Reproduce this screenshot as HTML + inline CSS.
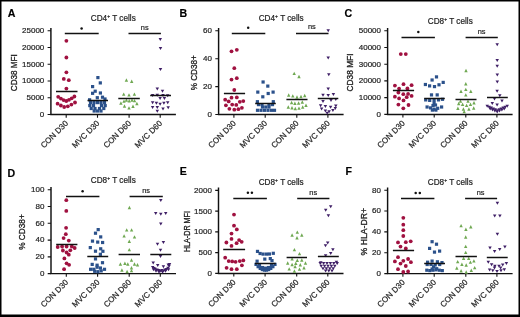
<!DOCTYPE html>
<html><head><meta charset="utf-8"><style>
html,body{margin:0;padding:0;background:#fff;}
body{width:520px;height:317px;overflow:hidden;}
svg{will-change:transform;display:block;font-family:"Liberation Sans",sans-serif;}
text{stroke:#222;stroke-width:0.2px;paint-order:stroke;}
</style></head><body>
<svg width="520" height="317" viewBox="0 0 520 317">
<rect x="0" y="0" width="520" height="317" fill="#fff"/>
<path d="M0 0H520V1.45H0Z M0 0H1.5V317H0Z M518.5 0H520V317H518.5Z M0 314.6H520V317H0Z" fill="#000"/>
<g id="pA">
<text transform="translate(7.7 16.9) scale(0.9 1)" font-size="11.8" font-weight="bold" fill="#000" style="stroke-width:0.2px">A</text>
<text x="90.8" y="20.6" font-size="8.2" fill="#222">CD4<tspan font-size="5" dy="-3">+</tspan><tspan dy="3"> T cells</tspan></text>
<text transform="translate(16.8 72.7) rotate(-90)" text-anchor="middle" font-size="9.0" fill="#222" style="stroke-width:0.32px" textLength="37" lengthAdjust="spacingAndGlyphs">CD38 MFI</text>
<path d="M50.9 27.9V114.5H175.9" fill="none" stroke="#111" stroke-width="1.45"/>
<text x="44.3" y="116.9" text-anchor="end" font-size="8.0" fill="#222">0</text>
<text x="44.3" y="100.14" text-anchor="end" font-size="8.0" fill="#222">5000</text>
<text x="44.3" y="83.38" text-anchor="end" font-size="8.0" fill="#222">10000</text>
<text x="44.3" y="66.62" text-anchor="end" font-size="8.0" fill="#222">15000</text>
<text x="44.3" y="49.86" text-anchor="end" font-size="8.0" fill="#222">20000</text>
<text x="44.3" y="33.1" text-anchor="end" font-size="8.0" fill="#222">25000</text>
<path d="M47.6 114.5H50.9M47.6 97.74H50.9M47.6 80.98H50.9M47.6 64.22H50.9M47.6 47.46H50.9M47.6 30.7H50.9M66.2 114.5V117.7M97.5 114.5V117.7M129.1 114.5V117.7M160.2 114.5V117.7" fill="none" stroke="#111" stroke-width="1.1"/>
<text transform="translate(68.7 123.8) rotate(-45)" text-anchor="end" font-size="8.1" fill="#222">CON D30</text>
<text transform="translate(100 123.8) rotate(-45)" text-anchor="end" font-size="8.1" fill="#222">MVC D30</text>
<text transform="translate(131.6 123.8) rotate(-45)" text-anchor="end" font-size="8.1" fill="#222">CON D60</text>
<text transform="translate(162.7 123.8) rotate(-45)" text-anchor="end" font-size="8.1" fill="#222">MVC D60</text>
<path d="M64.8 33.5H98.7" stroke="#111" stroke-width="1.4"/>
<circle cx="81.6" cy="28.4" r="1.25" fill="#111"/>
<path d="M128.5 33.5H160.9" stroke="#111" stroke-width="1.4"/>
<text x="140.8" y="29.6" font-size="7.4" fill="#222">ns</text>
<g fill="#a01140"><circle cx="66.4" cy="40.8" r="1.9"/><circle cx="66.4" cy="57.5" r="1.9"/><circle cx="66.4" cy="72.3" r="1.9"/><circle cx="63.8" cy="78.9" r="1.9"/><circle cx="68.8" cy="80.2" r="1.9"/><circle cx="66.4" cy="88.6" r="1.9"/><circle cx="58.2" cy="96.8" r="1.9"/><circle cx="60.9" cy="98.6" r="1.9"/><circle cx="63.6" cy="100.1" r="1.9"/><circle cx="66.3" cy="101" r="1.9"/><circle cx="69" cy="99.8" r="1.9"/><circle cx="71.7" cy="98.3" r="1.9"/><circle cx="74.4" cy="96.5" r="1.9"/><circle cx="57.6" cy="103.7" r="1.9"/><circle cx="60.9" cy="105.5" r="1.9"/><circle cx="64.2" cy="107" r="1.9"/><circle cx="67.8" cy="106.3" r="1.9"/><circle cx="71.4" cy="104.6" r="1.9"/><circle cx="75" cy="102.5" r="1.9"/></g>
<g fill="#2b518b"><rect x="96.3" y="76" width="3.2" height="3.2"/><rect x="98.7" y="81.3" width="3.2" height="3.2"/><rect x="91" y="85" width="3.2" height="3.2"/><rect x="93.6" y="89.6" width="3.2" height="3.2"/><rect x="91" y="91.7" width="3.2" height="3.2"/><rect x="98.8" y="91.4" width="3.2" height="3.2"/><rect x="95.7" y="96.1" width="3.2" height="3.2"/><rect x="100.9" y="95.6" width="3.2" height="3.2"/><rect x="103.4" y="97.4" width="3.2" height="3.2"/><rect x="88" y="98.2" width="3.2" height="3.2"/><rect x="88.9" y="101" width="3.2" height="3.2"/><rect x="92.4" y="101" width="3.2" height="3.2"/><rect x="95.9" y="101" width="3.2" height="3.2"/><rect x="99.4" y="101" width="3.2" height="3.2"/><rect x="102.9" y="101" width="3.2" height="3.2"/><rect x="88.2" y="104" width="3.2" height="3.2"/><rect x="91.9" y="104" width="3.2" height="3.2"/><rect x="99.9" y="104" width="3.2" height="3.2"/><rect x="103.6" y="104" width="3.2" height="3.2"/><rect x="89.6" y="106.9" width="3.2" height="3.2"/><rect x="93.4" y="106.9" width="3.2" height="3.2"/><rect x="97.9" y="106.9" width="3.2" height="3.2"/><rect x="102.2" y="106.9" width="3.2" height="3.2"/><rect x="92.6" y="109.4" width="3.2" height="3.2"/><rect x="96" y="109.4" width="3.2" height="3.2"/><rect x="99.4" y="109.4" width="3.2" height="3.2"/></g>
<g fill="#6fa852"><path d="M126.4 78.26L128.1 81.66L124.7 81.66Z"/><path d="M131.7 79.56L133.4 82.96L130 82.96Z"/><path d="M123.7 92.46L125.4 95.86L122 95.86Z"/><path d="M129 93.16L130.7 96.56L127.3 96.56Z"/><path d="M134.4 92.46L136.1 95.86L132.7 95.86Z"/><path d="M126.4 98.26L128.1 101.66L124.7 101.66Z"/><path d="M129.2 99.06L130.9 102.46L127.5 102.46Z"/><path d="M132 98.26L133.7 101.66L130.3 101.66Z"/><path d="M124 99.46L125.7 102.86L122.3 102.86Z"/><path d="M134.5 98.96L136.2 102.36L132.8 102.36Z"/><path d="M120.9 101.36L122.6 104.76L119.2 104.76Z"/><path d="M124.5 104.26L126.2 107.66L122.8 107.66Z"/><path d="M129 106.16L130.7 109.56L127.3 109.56Z"/><path d="M133 104.56L134.7 107.96L131.3 107.96Z"/><path d="M136.9 101.86L138.6 105.26L135.2 105.26Z"/></g>
<g fill="#3f1f66"><path d="M158.55 38.1L162.05 38.1L160.3 41.1Z"/><path d="M158.75 46.9L162.25 46.9L160.5 49.9Z"/><path d="M158.75 68.1L162.25 68.1L160.5 71.1Z"/><path d="M155.55 87.4L159.05 87.4L157.3 90.4Z"/><path d="M160.75 89.7L164.25 89.7L162.5 92.7Z"/><path d="M150.85 94L154.35 94L152.6 97Z"/><path d="M155.55 93.7L159.05 93.7L157.3 96.7Z"/><path d="M161.25 94L164.75 94L163 97Z"/><path d="M165.95 94.2L169.45 94.2L167.7 97.2Z"/><path d="M158.35 97L161.85 97L160.1 100Z"/><path d="M162.65 97L166.15 97L164.4 100Z"/><path d="M150.85 101.3L154.35 101.3L152.6 104.3Z"/><path d="M154.65 101.8L158.15 101.8L156.4 104.8Z"/><path d="M158.35 102.7L161.85 102.7L160.1 105.7Z"/><path d="M162.15 101.8L165.65 101.8L163.9 104.8Z"/><path d="M165.95 101.3L169.45 101.3L167.7 104.3Z"/><path d="M150.85 106L154.35 106L152.6 109Z"/><path d="M155.55 106L159.05 106L157.3 109Z"/><path d="M161.25 107.5L164.75 107.5L163 110.5Z"/><path d="M166.45 106.3L169.95 106.3L168.2 109.3Z"/><path d="M155.55 109.8L159.05 109.8L157.3 112.8Z"/></g>
<path d="M56 91.5H77.5" stroke="#111" stroke-width="1.5"/>
<path d="M87.5 100.5H108" stroke="#111" stroke-width="1.5"/>
<path d="M118.3 98.5H139.8" stroke="#111" stroke-width="1.5"/>
<path d="M150.2 95.5H171" stroke="#111" stroke-width="1.5"/>
</g>
<g id="pB">
<text transform="translate(179.4 16.6) scale(0.9 1)" font-size="11.8" font-weight="bold" fill="#000" style="stroke-width:0.2px">B</text>
<text x="258.7" y="20.8" font-size="8.2" fill="#222">CD4<tspan font-size="5" dy="-3">+</tspan><tspan dy="3"> T cells</tspan></text>
<text transform="translate(196.9 72.8) rotate(-90)" text-anchor="middle" font-size="9.0" fill="#222" style="stroke-width:0.32px" textLength="35" lengthAdjust="spacingAndGlyphs">% CD38+</text>
<path d="M218.6 28V114.5H343.6" fill="none" stroke="#111" stroke-width="1.45"/>
<text x="212" y="116.9" text-anchor="end" font-size="8.0" fill="#222">0</text>
<text x="212" y="89" text-anchor="end" font-size="8.0" fill="#222">20</text>
<text x="212" y="61.1" text-anchor="end" font-size="8.0" fill="#222">40</text>
<text x="212" y="33.2" text-anchor="end" font-size="8.0" fill="#222">60</text>
<path d="M215.3 114.5H218.6M215.3 86.6H218.6M215.3 58.7H218.6M215.3 30.8H218.6M233.9 114.5V117.7M265.2 114.5V117.7M296.8 114.5V117.7M327.9 114.5V117.7" fill="none" stroke="#111" stroke-width="1.1"/>
<text transform="translate(236.4 123.8) rotate(-45)" text-anchor="end" font-size="8.1" fill="#222">CON D30</text>
<text transform="translate(267.7 123.8) rotate(-45)" text-anchor="end" font-size="8.1" fill="#222">MVC D30</text>
<text transform="translate(299.3 123.8) rotate(-45)" text-anchor="end" font-size="8.1" fill="#222">CON D60</text>
<text transform="translate(330.4 123.8) rotate(-45)" text-anchor="end" font-size="8.1" fill="#222">MVC D60</text>
<path d="M231.8 33.5H265.3" stroke="#111" stroke-width="1.4"/>
<circle cx="248.2" cy="27.7" r="1.25" fill="#111"/>
<path d="M296 33.5H328.5" stroke="#111" stroke-width="1.4"/>
<text x="307.9" y="29.4" font-size="7.4" fill="#222">ns</text>
<g fill="#a01140"><circle cx="231.5" cy="51.3" r="1.9"/><circle cx="236.8" cy="49.8" r="1.9"/><circle cx="234.3" cy="68.2" r="1.9"/><circle cx="231.5" cy="79.6" r="1.9"/><circle cx="236.8" cy="78.2" r="1.9"/><circle cx="234.3" cy="90" r="1.9"/><circle cx="231.5" cy="97.7" r="1.9"/><circle cx="236.8" cy="97.4" r="1.9"/><circle cx="225.2" cy="99.7" r="1.9"/><circle cx="228.7" cy="101.4" r="1.9"/><circle cx="239.8" cy="101.8" r="1.9"/><circle cx="243.3" cy="101.1" r="1.9"/><circle cx="232.2" cy="104.6" r="1.9"/><circle cx="236.3" cy="104.9" r="1.9"/><circle cx="225.9" cy="105.3" r="1.9"/><circle cx="229.4" cy="108.8" r="1.9"/><circle cx="234.3" cy="109.7" r="1.9"/><circle cx="238.4" cy="109.2" r="1.9"/><circle cx="241.9" cy="107.8" r="1.9"/></g>
<g fill="#2b518b"><rect x="261.5" y="80.4" width="3.2" height="3.2"/><rect x="266.2" y="84.5" width="3.2" height="3.2"/><rect x="256.2" y="90.5" width="3.2" height="3.2"/><rect x="271.5" y="90.5" width="3.2" height="3.2"/><rect x="266.6" y="91.9" width="3.2" height="3.2"/><rect x="261.2" y="95.2" width="3.2" height="3.2"/><rect x="255.8" y="100.1" width="3.2" height="3.2"/><rect x="271.7" y="100.1" width="3.2" height="3.2"/><rect x="256.9" y="103" width="3.2" height="3.2"/><rect x="260.4" y="103" width="3.2" height="3.2"/><rect x="267.4" y="103" width="3.2" height="3.2"/><rect x="270.9" y="103" width="3.2" height="3.2"/><rect x="260.9" y="105.4" width="3.2" height="3.2"/><rect x="264.2" y="105.4" width="3.2" height="3.2"/><rect x="267.4" y="105.4" width="3.2" height="3.2"/><rect x="255.9" y="108.7" width="3.2" height="3.2"/><rect x="259.4" y="108.7" width="3.2" height="3.2"/><rect x="262.9" y="108.7" width="3.2" height="3.2"/><rect x="266.4" y="108.7" width="3.2" height="3.2"/><rect x="269.9" y="108.7" width="3.2" height="3.2"/><rect x="272.9" y="108.7" width="3.2" height="3.2"/></g>
<g fill="#6fa852"><path d="M294.2 71.66L295.9 75.06L292.5 75.06Z"/><path d="M299 74.86L300.7 78.26L297.3 78.26Z"/><path d="M288.7 93.36L290.4 96.76L287 96.76Z"/><path d="M292.8 94.16L294.5 97.56L291.1 97.56Z"/><path d="M297 95.36L298.7 98.76L295.3 98.76Z"/><path d="M301 94.86L302.7 98.26L299.3 98.26Z"/><path d="M304.7 93.76L306.4 97.16L303 97.16Z"/><path d="M291.6 100.76L293.3 104.16L289.9 104.16Z"/><path d="M294.9 101.56L296.6 104.96L293.2 104.96Z"/><path d="M298.6 101.36L300.3 104.76L296.9 104.76Z"/><path d="M302.3 100.36L304 103.76L300.6 103.76Z"/><path d="M288.3 105.26L290 108.66L286.6 108.66Z"/><path d="M292 106.06L293.7 109.46L290.3 109.46Z"/><path d="M295.3 106.86L297 110.26L293.6 110.26Z"/><path d="M299 106.46L300.7 109.86L297.3 109.86Z"/><path d="M302.7 105.26L304.4 108.66L301 108.66Z"/><path d="M306 103.56L307.7 106.96L304.3 106.96Z"/></g>
<g fill="#3f1f66"><path d="M326.45 29.3L329.95 29.3L328.2 32.3Z"/><path d="M326.45 56.6L329.95 56.6L328.2 59.6Z"/><path d="M327.05 73.3L330.55 73.3L328.8 76.3Z"/><path d="M326.45 87.6L329.95 87.6L328.2 90.6Z"/><path d="M321.25 93.8L324.75 93.8L323 96.8Z"/><path d="M326.45 94.1L329.95 94.1L328.2 97.1Z"/><path d="M331.65 93.1L335.15 93.1L333.4 96.1Z"/><path d="M321.25 99.9L324.75 99.9L323 102.9Z"/><path d="M329.25 99L332.75 99L331 102Z"/><path d="M334.05 98L337.55 98L335.8 101Z"/><path d="M318.85 104.2L322.35 104.2L320.6 107.2Z"/><path d="M323.65 105.1L327.15 105.1L325.4 108.1Z"/><path d="M328.85 105.8L332.35 105.8L330.6 108.8Z"/><path d="M334.05 104.5L337.55 104.5L335.8 107.5Z"/><path d="M319.85 107.5L323.35 107.5L321.6 110.5Z"/><path d="M323.65 109.4L327.15 109.4L325.4 112.4Z"/><path d="M327.35 110.3L330.85 110.3L329.1 113.3Z"/><path d="M331.15 108.9L334.65 108.9L332.9 111.9Z"/><path d="M333.55 107L337.05 107L335.3 110Z"/><path d="M325.45 111.8L328.95 111.8L327.2 114.8Z"/></g>
<path d="M223.9 93.5H245.1" stroke="#111" stroke-width="1.5"/>
<path d="M255.2 103.5H275.8" stroke="#111" stroke-width="1.5"/>
<path d="M286.4 99.5H307.5" stroke="#111" stroke-width="1.5"/>
<path d="M317.8 98.5H338.3" stroke="#111" stroke-width="1.5"/>
</g>
<g id="pC">
<text transform="translate(344.5 17.3) scale(0.9 1)" font-size="11.8" font-weight="bold" fill="#000" style="stroke-width:0.2px">C</text>
<text x="427.8" y="24.3" font-size="8.2" fill="#222">CD8<tspan font-size="5" dy="-3">+</tspan><tspan dy="3"> T cells</tspan></text>
<text transform="translate(352.9 72.5) rotate(-90)" text-anchor="middle" font-size="9.0" fill="#222" style="stroke-width:0.32px" textLength="38" lengthAdjust="spacingAndGlyphs">CD38 MFI</text>
<path d="M387.6 27.9V114.4H512.6" fill="none" stroke="#111" stroke-width="1.45"/>
<text x="381" y="116.8" text-anchor="end" font-size="8.0" fill="#222">0</text>
<text x="381" y="100.06" text-anchor="end" font-size="8.0" fill="#222">10000</text>
<text x="381" y="83.32" text-anchor="end" font-size="8.0" fill="#222">20000</text>
<text x="381" y="66.58" text-anchor="end" font-size="8.0" fill="#222">30000</text>
<text x="381" y="49.84" text-anchor="end" font-size="8.0" fill="#222">40000</text>
<text x="381" y="33.1" text-anchor="end" font-size="8.0" fill="#222">50000</text>
<path d="M384.3 114.4H387.6M384.3 97.66H387.6M384.3 80.92H387.6M384.3 64.18H387.6M384.3 47.44H387.6M384.3 30.7H387.6M402.9 114.4V117.6M434.2 114.4V117.6M465.8 114.4V117.6M496.9 114.4V117.6" fill="none" stroke="#111" stroke-width="1.1"/>
<text transform="translate(405.4 123.7) rotate(-45)" text-anchor="end" font-size="8.1" fill="#222">CON D30</text>
<text transform="translate(436.7 123.7) rotate(-45)" text-anchor="end" font-size="8.1" fill="#222">MVC D30</text>
<text transform="translate(468.3 123.7) rotate(-45)" text-anchor="end" font-size="8.1" fill="#222">CON D60</text>
<text transform="translate(499.4 123.7) rotate(-45)" text-anchor="end" font-size="8.1" fill="#222">MVC D60</text>
<path d="M401.5 37.5H434.9" stroke="#111" stroke-width="1.4"/>
<circle cx="418.3" cy="32.1" r="1.25" fill="#111"/>
<path d="M465.6 37.5H497.8" stroke="#111" stroke-width="1.4"/>
<text x="477.7" y="34.1" font-size="7.4" fill="#222">ns</text>
<g fill="#a01140"><circle cx="400.8" cy="54.1" r="1.9"/><circle cx="405.8" cy="54.1" r="1.9"/><circle cx="394.9" cy="85.6" r="1.9"/><circle cx="403.5" cy="84.2" r="1.9"/><circle cx="411.6" cy="85.2" r="1.9"/><circle cx="399.1" cy="88.6" r="1.9"/><circle cx="407.4" cy="88.4" r="1.9"/><circle cx="398.4" cy="92.5" r="1.9"/><circle cx="403.3" cy="94.2" r="1.9"/><circle cx="408.1" cy="93.9" r="1.9"/><circle cx="411.6" cy="95.9" r="1.9"/><circle cx="394.9" cy="96.7" r="1.9"/><circle cx="399.1" cy="98.4" r="1.9"/><circle cx="406.7" cy="97.2" r="1.9"/><circle cx="403.5" cy="100.4" r="1.9"/><circle cx="398.4" cy="104.6" r="1.9"/><circle cx="408.5" cy="105" r="1.9"/><circle cx="403.3" cy="108.3" r="1.9"/></g>
<g fill="#2b518b"><rect x="434.9" y="75.3" width="3.2" height="3.2"/><rect x="430.5" y="78.4" width="3.2" height="3.2"/><rect x="441.6" y="80.8" width="3.2" height="3.2"/><rect x="423.8" y="82.9" width="3.2" height="3.2"/><rect x="437.4" y="83.2" width="3.2" height="3.2"/><rect x="428" y="84.3" width="3.2" height="3.2"/><rect x="432.9" y="85" width="3.2" height="3.2"/><rect x="429.9" y="93.3" width="3.2" height="3.2"/><rect x="435.6" y="93.3" width="3.2" height="3.2"/><rect x="424.1" y="98.3" width="3.2" height="3.2"/><rect x="428.1" y="98.8" width="3.2" height="3.2"/><rect x="432.5" y="98.8" width="3.2" height="3.2"/><rect x="436.9" y="98.3" width="3.2" height="3.2"/><rect x="440.9" y="97.7" width="3.2" height="3.2"/><rect x="432.5" y="101.8" width="3.2" height="3.2"/><rect x="431.4" y="103.9" width="3.2" height="3.2"/><rect x="433.9" y="103.4" width="3.2" height="3.2"/><rect x="425.5" y="105.4" width="3.2" height="3.2"/><rect x="429" y="106.3" width="3.2" height="3.2"/><rect x="432.5" y="107.6" width="3.2" height="3.2"/><rect x="436.1" y="106.7" width="3.2" height="3.2"/><rect x="440" y="105.4" width="3.2" height="3.2"/><rect x="430.8" y="108.5" width="3.2" height="3.2"/><rect x="434.3" y="108.5" width="3.2" height="3.2"/></g>
<g fill="#6fa852"><path d="M466 68.76L467.7 72.16L464.3 72.16Z"/><path d="M465.8 82.06L467.5 85.46L464.1 85.46Z"/><path d="M461 89.56L462.7 92.96L459.3 92.96Z"/><path d="M465.8 87.66L467.5 91.06L464.1 91.06Z"/><path d="M470.8 89.56L472.5 92.96L469.1 92.96Z"/><path d="M465.8 93.16L467.5 96.56L464.1 96.56Z"/><path d="M460.5 99.46L462.2 102.86L458.8 102.86Z"/><path d="M468 99.46L469.7 102.86L466.3 102.86Z"/><path d="M458.7 101.86L460.4 105.26L457 105.26Z"/><path d="M462.6 102.56L464.3 105.96L460.9 105.96Z"/><path d="M466.6 103.66L468.3 107.06L464.9 107.06Z"/><path d="M470.5 102.56L472.2 105.96L468.8 105.96Z"/><path d="M474 101.06L475.7 104.46L472.3 104.46Z"/><path d="M457.9 106.56L459.6 109.96L456.2 109.96Z"/><path d="M463.4 107.36L465.1 110.76L461.7 110.76Z"/><path d="M468.9 107.36L470.6 110.76L467.2 110.76Z"/><path d="M473.7 106.26L475.4 109.66L472 109.66Z"/><path d="M464.2 109.96L465.9 113.36L462.5 113.36Z"/></g>
<g fill="#3f1f66"><path d="M495.45 43.2L498.95 43.2L497.2 46.2Z"/><path d="M495.45 59L498.95 59L497.2 62Z"/><path d="M495.45 64.7L498.95 64.7L497.2 67.7Z"/><path d="M495.55 73.5L499.05 73.5L497.3 76.5Z"/><path d="M495.55 80.6L499.05 80.6L497.3 83.6Z"/><path d="M495.35 89.8L498.85 89.8L497.1 92.8Z"/><path d="M498.05 94.3L501.55 94.3L499.8 97.3Z"/><path d="M492.75 97.4L496.25 97.4L494.5 100.4Z"/><path d="M500.25 99.6L503.75 99.6L502 102.6Z"/><path d="M490.55 102L494.05 102L492.3 105Z"/><path d="M495.35 103.4L498.85 103.4L497.1 106.4Z"/><path d="M485.45 104.8L488.95 104.8L487.2 107.8Z"/><path d="M487.45 105.68L490.95 105.68L489.2 108.68Z"/><path d="M489.45 106.56L492.95 106.56L491.2 109.56Z"/><path d="M491.45 107.44L494.95 107.44L493.2 110.44Z"/><path d="M493.45 108.32L496.95 108.32L495.2 111.32Z"/><path d="M495.45 109.2L498.95 109.2L497.2 112.2Z"/><path d="M497.45 108.32L500.95 108.32L499.2 111.32Z"/><path d="M499.45 107.44L502.95 107.44L501.2 110.44Z"/><path d="M501.45 106.56L504.95 106.56L503.2 109.56Z"/><path d="M503.45 105.68L506.95 105.68L505.2 108.68Z"/><path d="M505.45 104.8L508.95 104.8L507.2 107.8Z"/><path d="M488.45 107.4L491.95 107.4L490.2 110.4Z"/><path d="M490.78 108.4L494.28 108.4L492.53 111.4Z"/><path d="M493.12 109.4L496.62 109.4L494.87 112.4Z"/><path d="M495.45 110.4L498.95 110.4L497.2 113.4Z"/><path d="M497.78 109.4L501.28 109.4L499.53 112.4Z"/><path d="M500.12 108.4L503.62 108.4L501.87 111.4Z"/><path d="M502.45 107.4L505.95 107.4L504.2 110.4Z"/></g>
<path d="M392.9 90.5H414.1" stroke="#111" stroke-width="1.5"/>
<path d="M424.2 98.5H444.8" stroke="#111" stroke-width="1.5"/>
<path d="M455.5 99.5H476.5" stroke="#111" stroke-width="1.5"/>
<path d="M487 97.5H507.8" stroke="#111" stroke-width="1.5"/>
</g>
<g id="pD">
<text transform="translate(7.6 176.6) scale(0.9 1)" font-size="11.8" font-weight="bold" fill="#000" style="stroke-width:0.2px">D</text>
<text x="90.8" y="183.4" font-size="8.2" fill="#222">CD8<tspan font-size="5" dy="-3">+</tspan><tspan dy="3"> T cells</tspan></text>
<text transform="translate(24.8 232) rotate(-90)" text-anchor="middle" font-size="9.0" fill="#222" style="stroke-width:0.32px" textLength="35.5" lengthAdjust="spacingAndGlyphs">% CD38+</text>
<path d="M51 187V273.6H176" fill="none" stroke="#111" stroke-width="1.45"/>
<text x="44.4" y="276" text-anchor="end" font-size="8.0" fill="#222">0</text>
<text x="44.4" y="259.24" text-anchor="end" font-size="8.0" fill="#222">20</text>
<text x="44.4" y="242.48" text-anchor="end" font-size="8.0" fill="#222">40</text>
<text x="44.4" y="225.72" text-anchor="end" font-size="8.0" fill="#222">60</text>
<text x="44.4" y="208.96" text-anchor="end" font-size="8.0" fill="#222">80</text>
<text x="44.4" y="192.2" text-anchor="end" font-size="8.0" fill="#222">100</text>
<path d="M47.7 273.6H51M47.7 256.84H51M47.7 240.08H51M47.7 223.32H51M47.7 206.56H51M47.7 189.8H51M66.3 273.6V276.8M97.6 273.6V276.8M129.2 273.6V276.8M160.3 273.6V276.8" fill="none" stroke="#111" stroke-width="1.1"/>
<text transform="translate(68.8 282.9) rotate(-45)" text-anchor="end" font-size="8.1" fill="#222">CON D30</text>
<text transform="translate(100.1 282.9) rotate(-45)" text-anchor="end" font-size="8.1" fill="#222">MVC D30</text>
<text transform="translate(131.7 282.9) rotate(-45)" text-anchor="end" font-size="8.1" fill="#222">CON D60</text>
<text transform="translate(162.8 282.9) rotate(-45)" text-anchor="end" font-size="8.1" fill="#222">MVC D60</text>
<path d="M66 196.5H99.4" stroke="#111" stroke-width="1.4"/>
<circle cx="82.6" cy="191.3" r="1.25" fill="#111"/>
<path d="M129.6 196.5H162.8" stroke="#111" stroke-width="1.4"/>
<text x="142.2" y="192.5" font-size="7.4" fill="#222">ns</text>
<g fill="#a01140"><circle cx="66.3" cy="200.2" r="1.9"/><circle cx="66.3" cy="210.9" r="1.9"/><circle cx="66.1" cy="227.8" r="1.9"/><circle cx="65.8" cy="234.2" r="1.9"/><circle cx="63.6" cy="238.1" r="1.9"/><circle cx="68.8" cy="240.6" r="1.9"/><circle cx="57.7" cy="247" r="1.9"/><circle cx="62.1" cy="246.5" r="1.9"/><circle cx="66.6" cy="246.5" r="1.9"/><circle cx="71.8" cy="246.5" r="1.9"/><circle cx="74.7" cy="248" r="1.9"/><circle cx="62.9" cy="250.5" r="1.9"/><circle cx="70.3" cy="250.3" r="1.9"/><circle cx="66.6" cy="252.5" r="1.9"/><circle cx="68.8" cy="254.7" r="1.9"/><circle cx="64.4" cy="258.4" r="1.9"/><circle cx="66.6" cy="263.3" r="1.9"/><circle cx="69.1" cy="264.8" r="1.9"/><circle cx="64.1" cy="269.2" r="1.9"/></g>
<g fill="#2b518b"><rect x="96.6" y="228" width="3.2" height="3.2"/><rect x="93.9" y="231.6" width="3.2" height="3.2"/><rect x="99.1" y="235.3" width="3.2" height="3.2"/><rect x="90.9" y="239.5" width="3.2" height="3.2"/><rect x="96.1" y="240.5" width="3.2" height="3.2"/><rect x="101" y="240.9" width="3.2" height="3.2"/><rect x="88.7" y="246" width="3.2" height="3.2"/><rect x="99.1" y="247.2" width="3.2" height="3.2"/><rect x="93.9" y="249.6" width="3.2" height="3.2"/><rect x="101.3" y="249.7" width="3.2" height="3.2"/><rect x="98.8" y="252.7" width="3.2" height="3.2"/><rect x="93.9" y="257.3" width="3.2" height="3.2"/><rect x="90.6" y="262.8" width="3.2" height="3.2"/><rect x="95.5" y="263.6" width="3.2" height="3.2"/><rect x="100.9" y="261.1" width="3.2" height="3.2"/><rect x="89" y="267.7" width="3.2" height="3.2"/><rect x="92.2" y="267.7" width="3.2" height="3.2"/><rect x="95.5" y="265.6" width="3.2" height="3.2"/><rect x="98.8" y="266.4" width="3.2" height="3.2"/><rect x="102.9" y="267.7" width="3.2" height="3.2"/><rect x="93.1" y="269.7" width="3.2" height="3.2"/><rect x="96.3" y="270.1" width="3.2" height="3.2"/><rect x="99.6" y="269.3" width="3.2" height="3.2"/></g>
<g fill="#6fa852"><path d="M129.4 205.76L131.1 209.16L127.7 209.16Z"/><path d="M126.7 228.16L128.4 231.56L125 231.56Z"/><path d="M131.6 228.16L133.3 231.56L129.9 231.56Z"/><path d="M124.1 234.16L125.8 237.56L122.4 237.56Z"/><path d="M134.5 235.16L136.2 238.56L132.8 238.56Z"/><path d="M129.3 239.56L131 242.96L127.6 242.96Z"/><path d="M129.3 247.96L131 251.36L127.6 251.36Z"/><path d="M131.5 258.26L133.2 261.66L129.8 261.66Z"/><path d="M120.4 262.26L122.1 265.66L118.7 265.66Z"/><path d="M124.9 261.56L126.6 264.96L123.2 264.96Z"/><path d="M127.8 262.26L129.5 265.66L126.1 265.66Z"/><path d="M134.5 262.26L136.2 265.66L132.8 265.66Z"/><path d="M137.5 263.06L139.2 266.46L135.8 266.46Z"/><path d="M131.5 266.06L133.2 269.46L129.8 269.46Z"/><path d="M121.9 268.26L123.6 271.66L120.2 271.66Z"/><path d="M127.1 269.76L128.8 273.16L125.4 273.16Z"/><path d="M131.5 268.96L133.2 272.36L129.8 272.36Z"/></g>
<g fill="#3f1f66"><path d="M159.05 199L162.55 199L160.8 202Z"/><path d="M153.95 211.9L157.45 211.9L155.7 214.9Z"/><path d="M159.05 212.8L162.55 212.8L160.8 215.8Z"/><path d="M163.95 211.9L167.45 211.9L165.7 214.9Z"/><path d="M159.05 222.6L162.55 222.6L160.8 225.6Z"/><path d="M155.75 242.8L159.25 242.8L157.5 245.8Z"/><path d="M161.65 240.9L165.15 240.9L163.4 243.9Z"/><path d="M158.75 248.8L162.25 248.8L160.5 251.8Z"/><path d="M158.75 255L162.25 255L160.5 258Z"/><path d="M151.45 261.5L154.95 261.5L153.2 264.5Z"/><path d="M155.95 264L159.45 264L157.7 267Z"/><path d="M161.65 265.2L165.15 265.2L163.4 268.2Z"/><path d="M166.55 263.6L170.05 263.6L168.3 266.6Z"/><path d="M150.95 266L154.45 266L152.7 269Z"/><path d="M153.45 267.7L156.95 267.7L155.2 270.7Z"/><path d="M156.75 268.9L160.25 268.9L158.5 271.9Z"/><path d="M160.05 269.1L163.55 269.1L161.8 272.1Z"/><path d="M163.25 268.5L166.75 268.5L165 271.5Z"/><path d="M166.15 266.8L169.65 266.8L167.9 269.8Z"/><path d="M167.35 264.8L170.85 264.8L169.1 267.8Z"/><path d="M152.25 267.1L155.75 267.1L154 270.1Z"/><path d="M158.35 269.8L161.85 269.8L160.1 272.8Z"/><path d="M161.75 269.4L165.25 269.4L163.5 272.4Z"/><path d="M164.75 268L168.25 268L166.5 271Z"/><path d="M167.75 263.1L171.25 263.1L169.5 266.1Z"/><path d="M155.25 268.6L158.75 268.6L157 271.6Z"/><path d="M154.25 269.8L157.75 269.8L156 272.8Z"/><path d="M157.25 270.8L160.75 270.8L159 273.8Z"/><path d="M160.75 270.8L164.25 270.8L162.5 273.8Z"/><path d="M163.75 269.8L167.25 269.8L165.5 272.8Z"/><path d="M151.75 268.3L155.25 268.3L153.5 271.3Z"/><path d="M166.75 268.3L170.25 268.3L168.5 271.3Z"/></g>
<path d="M56.2 244.5H77.4" stroke="#111" stroke-width="1.5"/>
<path d="M87.3 256.5H108.2" stroke="#111" stroke-width="1.5"/>
<path d="M118.6 254.5H140" stroke="#111" stroke-width="1.5"/>
<path d="M150.3 254.5H171.3" stroke="#111" stroke-width="1.5"/>
</g>
<g id="pE">
<text transform="translate(179.7 174.9) scale(0.9 1)" font-size="11.8" font-weight="bold" fill="#000" style="stroke-width:0.2px">E</text>
<text x="258.7" y="185.4" font-size="8.2" fill="#222">CD8<tspan font-size="5" dy="-3">+</tspan><tspan dy="3"> T cells</tspan></text>
<text transform="translate(190.3 231.6) rotate(-90)" text-anchor="middle" font-size="9.0" fill="#222" style="stroke-width:0.32px" textLength="41" lengthAdjust="spacingAndGlyphs">HLA-DR MFI</text>
<path d="M218.5 187.6V273.4H343.5" fill="none" stroke="#111" stroke-width="1.45"/>
<text x="211.9" y="275.8" text-anchor="end" font-size="8.0" fill="#222">0</text>
<text x="211.9" y="255.05" text-anchor="end" font-size="8.0" fill="#222">500</text>
<text x="211.9" y="234.3" text-anchor="end" font-size="8.0" fill="#222">1000</text>
<text x="211.9" y="213.55" text-anchor="end" font-size="8.0" fill="#222">1500</text>
<text x="211.9" y="192.8" text-anchor="end" font-size="8.0" fill="#222">2000</text>
<path d="M215.2 273.4H218.5M215.2 252.65H218.5M215.2 231.9H218.5M215.2 211.15H218.5M215.2 190.4H218.5M233.8 273.4V276.6M265.1 273.4V276.6M296.7 273.4V276.6M327.8 273.4V276.6" fill="none" stroke="#111" stroke-width="1.1"/>
<text transform="translate(236.3 282.7) rotate(-45)" text-anchor="end" font-size="8.1" fill="#222">CON D30</text>
<text transform="translate(267.6 282.7) rotate(-45)" text-anchor="end" font-size="8.1" fill="#222">MVC D30</text>
<text transform="translate(299.2 282.7) rotate(-45)" text-anchor="end" font-size="8.1" fill="#222">CON D60</text>
<text transform="translate(330.3 282.7) rotate(-45)" text-anchor="end" font-size="8.1" fill="#222">MVC D60</text>
<path d="M233.3 198.5H266.9" stroke="#111" stroke-width="1.4"/>
<circle cx="247.9" cy="192.8" r="1.25" fill="#111"/>
<circle cx="251.9" cy="192.8" r="1.25" fill="#111"/>
<path d="M297.2 198.5H329.4" stroke="#111" stroke-width="1.4"/>
<text x="309.3" y="194.6" font-size="7.4" fill="#222">ns</text>
<g fill="#a01140"><circle cx="234" cy="214.6" r="1.9"/><circle cx="234" cy="225.7" r="1.9"/><circle cx="236.8" cy="229.4" r="1.9"/><circle cx="231.5" cy="233.6" r="1.9"/><circle cx="231.5" cy="238.9" r="1.9"/><circle cx="239.1" cy="240.1" r="1.9"/><circle cx="241.7" cy="241.8" r="1.9"/><circle cx="226.4" cy="242.5" r="1.9"/><circle cx="236.6" cy="243.2" r="1.9"/><circle cx="231.5" cy="245.9" r="1.9"/><circle cx="225.2" cy="257.7" r="1.9"/><circle cx="228.7" cy="261.1" r="1.9"/><circle cx="232.2" cy="261.4" r="1.9"/><circle cx="235.6" cy="261.8" r="1.9"/><circle cx="239.8" cy="261.1" r="1.9"/><circle cx="243.3" cy="260.4" r="1.9"/><circle cx="241.9" cy="265.3" r="1.9"/><circle cx="226.6" cy="267.8" r="1.9"/><circle cx="231.5" cy="269.2" r="1.9"/><circle cx="236.8" cy="269.2" r="1.9"/></g>
<g fill="#2b518b"><rect x="255.9" y="249.8" width="3.2" height="3.2"/><rect x="258.5" y="251.9" width="3.2" height="3.2"/><rect x="261.5" y="252.5" width="3.2" height="3.2"/><rect x="264.9" y="252.5" width="3.2" height="3.2"/><rect x="267.8" y="252.4" width="3.2" height="3.2"/><rect x="271.7" y="251.7" width="3.2" height="3.2"/><rect x="263.2" y="257.5" width="3.2" height="3.2"/><rect x="268.7" y="257" width="3.2" height="3.2"/><rect x="270.4" y="259" width="3.2" height="3.2"/><rect x="255.5" y="259.6" width="3.2" height="3.2"/><rect x="254.4" y="262.8" width="3.2" height="3.2"/><rect x="256.51" y="265.09" width="3.2" height="3.2"/><rect x="258.62" y="266.81" width="3.2" height="3.2"/><rect x="260.73" y="267.96" width="3.2" height="3.2"/><rect x="262.84" y="268.53" width="3.2" height="3.2"/><rect x="264.96" y="268.53" width="3.2" height="3.2"/><rect x="267.07" y="267.96" width="3.2" height="3.2"/><rect x="269.18" y="266.81" width="3.2" height="3.2"/><rect x="271.29" y="265.09" width="3.2" height="3.2"/><rect x="273.4" y="262.8" width="3.2" height="3.2"/><rect x="257.9" y="264" width="3.2" height="3.2"/><rect x="260.9" y="265.95" width="3.2" height="3.2"/><rect x="263.9" y="266.6" width="3.2" height="3.2"/><rect x="266.9" y="265.95" width="3.2" height="3.2"/><rect x="269.9" y="264" width="3.2" height="3.2"/></g>
<g fill="#6fa852"><path d="M297.3 230.46L299 233.86L295.6 233.86Z"/><path d="M292.1 233.36L293.8 236.76L290.4 236.76Z"/><path d="M301.8 233.36L303.5 236.76L300.1 236.76Z"/><path d="M297 236.06L298.7 239.46L295.3 239.46Z"/><path d="M294.4 247.96L296.1 251.36L292.7 251.36Z"/><path d="M299.5 251.96L301.2 255.36L297.8 255.36Z"/><path d="M292.1 257.16L293.8 260.56L290.4 260.56Z"/><path d="M297.3 258.56L299 261.96L295.6 261.96Z"/><path d="M301.8 258.26L303.5 261.66L300.1 261.66Z"/><path d="M287.7 261.26L289.4 264.66L286 264.66Z"/><path d="M292.1 262.76L293.8 266.16L290.4 266.16Z"/><path d="M295.8 261.56L297.5 264.96L294.1 264.96Z"/><path d="M300.3 263.06L302 266.46L298.6 266.46Z"/><path d="M305.5 261.26L307.2 264.66L303.8 264.66Z"/><path d="M289.2 267.16L290.9 270.56L287.5 270.56Z"/><path d="M295.1 264.86L296.8 268.26L293.4 268.26Z"/><path d="M299.5 267.46L301.2 270.86L297.8 270.86Z"/><path d="M304 266.06L305.7 269.46L302.3 269.46Z"/><path d="M294.4 269.26L296.1 272.66L292.7 272.66Z"/></g>
<g fill="#3f1f66"><path d="M328.95 205.2L332.45 205.2L330.7 208.2Z"/><path d="M323.95 208.7L327.45 208.7L325.7 211.7Z"/><path d="M326.65 214.2L330.15 214.2L328.4 217.2Z"/><path d="M325.95 241.6L329.45 241.6L327.7 244.6Z"/><path d="M323.75 244.3L327.25 244.3L325.5 247.3Z"/><path d="M331.15 248.3L334.65 248.3L332.9 251.3Z"/><path d="M328.95 252.1L332.45 252.1L330.7 255.1Z"/><path d="M323.85 254.2L327.35 254.2L325.6 257.2Z"/><path d="M319.05 261.2L322.55 261.2L320.8 264.2Z"/><path d="M334.65 260.8L338.15 260.8L336.4 263.8Z"/><path d="M318.45 262L321.95 262L320.2 265Z"/><path d="M321.85 262L325.35 262L323.6 265Z"/><path d="M325.25 262L328.75 262L327 265Z"/><path d="M328.65 262L332.15 262L330.4 265Z"/><path d="M332.05 262L335.55 262L333.8 265Z"/><path d="M335.45 262L338.95 262L337.2 265Z"/><path d="M319.45 264.7L322.95 264.7L321.2 267.7Z"/><path d="M322.85 264.7L326.35 264.7L324.6 267.7Z"/><path d="M326.25 264.7L329.75 264.7L328 267.7Z"/><path d="M329.65 264.7L333.15 264.7L331.4 267.7Z"/><path d="M333.05 264.7L336.55 264.7L334.8 267.7Z"/><path d="M321.25 267.3L324.75 267.3L323 270.3Z"/><path d="M324.65 267.3L328.15 267.3L326.4 270.3Z"/><path d="M328.05 267.3L331.55 267.3L329.8 270.3Z"/><path d="M331.45 267.3L334.95 267.3L333.2 270.3Z"/><path d="M323.85 269.6L327.35 269.6L325.6 272.6Z"/><path d="M327.05 269.6L330.55 269.6L328.8 272.6Z"/><path d="M330.25 269.6L333.75 269.6L332 272.6Z"/></g>
<path d="M223.2 249.5H245.1" stroke="#111" stroke-width="1.5"/>
<path d="M255 263.5H275.8" stroke="#111" stroke-width="1.5"/>
<path d="M286.6 257.5H307" stroke="#111" stroke-width="1.5"/>
<path d="M317.9 256.5H338.8" stroke="#111" stroke-width="1.5"/>
</g>
<g id="pF">
<text transform="translate(345.5 174.7) scale(0.9 1)" font-size="11.8" font-weight="bold" fill="#000" style="stroke-width:0.2px">F</text>
<text x="427.8" y="184.6" font-size="8.2" fill="#222">CD8<tspan font-size="5" dy="-3">+</tspan><tspan dy="3"> T cells</tspan></text>
<text transform="translate(366.9 231.7) rotate(-90)" text-anchor="middle" font-size="9.0" fill="#222" style="stroke-width:0.32px" textLength="47.5" lengthAdjust="spacingAndGlyphs">% HLA-DR+</text>
<path d="M387.6 187.4V273.6H512.6" fill="none" stroke="#111" stroke-width="1.45"/>
<text x="381" y="276" text-anchor="end" font-size="8.0" fill="#222">0</text>
<text x="381" y="255.15" text-anchor="end" font-size="8.0" fill="#222">20</text>
<text x="381" y="234.3" text-anchor="end" font-size="8.0" fill="#222">40</text>
<text x="381" y="213.45" text-anchor="end" font-size="8.0" fill="#222">60</text>
<text x="381" y="192.6" text-anchor="end" font-size="8.0" fill="#222">80</text>
<path d="M384.3 273.6H387.6M384.3 252.75H387.6M384.3 231.9H387.6M384.3 211.05H387.6M384.3 190.2H387.6M402.9 273.6V276.8M434.2 273.6V276.8M465.8 273.6V276.8M496.9 273.6V276.8" fill="none" stroke="#111" stroke-width="1.1"/>
<text transform="translate(405.4 282.9) rotate(-45)" text-anchor="end" font-size="8.1" fill="#222">CON D30</text>
<text transform="translate(436.7 282.9) rotate(-45)" text-anchor="end" font-size="8.1" fill="#222">MVC D30</text>
<text transform="translate(468.3 282.9) rotate(-45)" text-anchor="end" font-size="8.1" fill="#222">CON D60</text>
<text transform="translate(499.4 282.9) rotate(-45)" text-anchor="end" font-size="8.1" fill="#222">MVC D60</text>
<path d="M401 198.5H434.4" stroke="#111" stroke-width="1.4"/>
<circle cx="415.7" cy="192.9" r="1.25" fill="#111"/>
<circle cx="419.8" cy="192.9" r="1.25" fill="#111"/>
<path d="M465.1 198.5H497.1" stroke="#111" stroke-width="1.4"/>
<text x="476.7" y="194.6" font-size="7.4" fill="#222">ns</text>
<g fill="#a01140"><circle cx="403.3" cy="217.8" r="1.9"/><circle cx="403.3" cy="224.7" r="1.9"/><circle cx="403.3" cy="230.2" r="1.9"/><circle cx="403.3" cy="236" r="1.9"/><circle cx="398" cy="242.4" r="1.9"/><circle cx="405.8" cy="242.2" r="1.9"/><circle cx="410.7" cy="241.3" r="1.9"/><circle cx="400.5" cy="246.6" r="1.9"/><circle cx="405.8" cy="248.4" r="1.9"/><circle cx="398" cy="257.2" r="1.9"/><circle cx="408.1" cy="259" r="1.9"/><circle cx="394.9" cy="261.4" r="1.9"/><circle cx="403.3" cy="260.8" r="1.9"/><circle cx="410.9" cy="262.2" r="1.9"/><circle cx="400.5" cy="263.6" r="1.9"/><circle cx="405.8" cy="266" r="1.9"/><circle cx="398" cy="269.2" r="1.9"/><circle cx="403.3" cy="272" r="1.9"/><circle cx="408.1" cy="271.5" r="1.9"/></g>
<g fill="#2b518b"><rect x="430.5" y="240.1" width="3.2" height="3.2"/><rect x="434.9" y="242.6" width="3.2" height="3.2"/><rect x="428" y="246.8" width="3.2" height="3.2"/><rect x="432.9" y="250.5" width="3.2" height="3.2"/><rect x="438" y="249.5" width="3.2" height="3.2"/><rect x="426" y="260.6" width="3.2" height="3.2"/><rect x="430.5" y="259.5" width="3.2" height="3.2"/><rect x="435.8" y="260.2" width="3.2" height="3.2"/><rect x="440.4" y="261" width="3.2" height="3.2"/><rect x="425.6" y="262.9" width="3.2" height="3.2"/><rect x="429.4" y="262.9" width="3.2" height="3.2"/><rect x="433.6" y="263.3" width="3.2" height="3.2"/><rect x="438.1" y="262.9" width="3.2" height="3.2"/><rect x="432" y="265.2" width="3.2" height="3.2"/><rect x="425.2" y="268.6" width="3.2" height="3.2"/><rect x="428.2" y="269" width="3.2" height="3.2"/><rect x="431.3" y="268.6" width="3.2" height="3.2"/><rect x="434.3" y="268.2" width="3.2" height="3.2"/><rect x="437.7" y="268.6" width="3.2" height="3.2"/><rect x="440.7" y="269" width="3.2" height="3.2"/><rect x="430.5" y="267.4" width="3.2" height="3.2"/><rect x="435.1" y="267.1" width="3.2" height="3.2"/></g>
<g fill="#6fa852"><path d="M461.1 223.96L462.8 227.36L459.4 227.36Z"/><path d="M470.8 225.06L472.5 228.46L469.1 228.46Z"/><path d="M465.9 227.56L467.6 230.96L464.2 230.96Z"/><path d="M465.7 235.26L467.4 238.66L464 238.66Z"/><path d="M465.7 244.66L467.4 248.06L464 248.06Z"/><path d="M465.7 250.66L467.4 254.06L464 254.06Z"/><path d="M463.6 256.56L465.3 259.96L461.9 259.96Z"/><path d="M468.7 256.56L470.4 259.96L467 259.96Z"/><path d="M457.7 259.96L459.4 263.36L456 263.36Z"/><path d="M473.9 259.16L475.6 262.56L472.2 262.56Z"/><path d="M470.4 260.46L472.1 263.86L468.7 263.86Z"/><path d="M461.9 262.56L463.6 265.96L460.2 265.96Z"/><path d="M466.2 263.36L467.9 266.76L464.5 266.76Z"/><path d="M456.8 266.26L458.5 269.66L455.1 269.66Z"/><path d="M474.7 265.96L476.4 269.36L473 269.36Z"/><path d="M461.1 269.06L462.8 272.46L459.4 272.46Z"/><path d="M466.2 270.26L467.9 273.66L464.5 273.66Z"/><path d="M471.3 268.56L473 271.96L469.6 271.96Z"/></g>
<g fill="#3f1f66"><path d="M495.65 201.8L499.15 201.8L497.4 204.8Z"/><path d="M492.95 214.6L496.45 214.6L494.7 217.6Z"/><path d="M498.15 214.6L501.65 214.6L499.9 217.6Z"/><path d="M495.65 232.7L499.15 232.7L497.4 235.7Z"/><path d="M488.25 246.4L491.75 246.4L490 249.4Z"/><path d="M492.85 250.1L496.35 250.1L494.6 253.1Z"/><path d="M497.95 248.1L501.45 248.1L499.7 251.1Z"/><path d="M503.15 245.5L506.65 245.5L504.9 248.5Z"/><path d="M486.55 260.7L490.05 260.7L488.3 263.7Z"/><path d="M489.85 263.2L493.35 263.2L491.6 266.2Z"/><path d="M493.15 264.8L496.65 264.8L494.9 267.8Z"/><path d="M497.25 264.8L500.75 264.8L499 267.8Z"/><path d="M500.95 263.6L504.45 263.6L502.7 266.6Z"/><path d="M504.65 261.9L508.15 261.9L506.4 264.9Z"/><path d="M492.75 266.4L496.25 266.4L494.5 269.4Z"/><path d="M498.85 266.4L502.35 266.4L500.6 269.4Z"/><path d="M487.85 268.5L491.35 268.5L489.6 271.5Z"/><path d="M491.05 269.3L494.55 269.3L492.8 272.3Z"/><path d="M495.25 270L498.75 270L497 273Z"/><path d="M499.25 269.3L502.75 269.3L501 272.3Z"/><path d="M502.55 268.3L506.05 268.3L504.3 271.3Z"/></g>
<path d="M392.9 250.5H414.1" stroke="#111" stroke-width="1.5"/>
<path d="M424.2 263.5H445" stroke="#111" stroke-width="1.5"/>
<path d="M455.5 256.5H476.9" stroke="#111" stroke-width="1.5"/>
<path d="M486.8 257.5H507.7" stroke="#111" stroke-width="1.5"/>
</g>
</svg>
</body></html>
